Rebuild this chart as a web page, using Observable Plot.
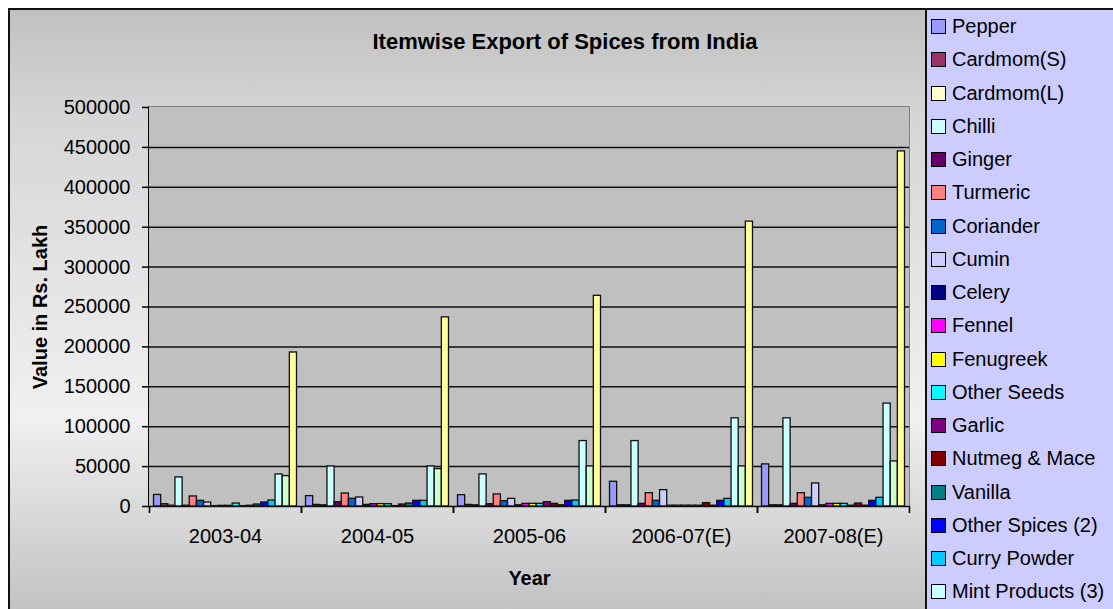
<!DOCTYPE html>
<html>
<head>
<meta charset="utf-8">
<script src="https://cdn.jsdelivr.net/npm/d3@7"></script>
<script src="https://cdn.jsdelivr.net/npm/@observablehq/plot@0.6"></script>
<style>
  html, body { margin: 0; padding: 0; width: 1113px; height: 609px; overflow: hidden; background: #fff;
    font-family: "Liberation Sans", Arial, sans-serif; }
  #chartArea { position: absolute; left: 8px; top: 8px; width: 917px; height: 601px; box-sizing: border-box;
    border-left: 2px solid #111; border-top: 2px solid #111;
    background: linear-gradient(180deg, #c0c0c0 0%, #d6d6d6 18%, #f0f0f0 68%, #c2c2c2 100%); }
  #plotBg { position: absolute; left: 148px; top: 106px; width: 760px; height: 399px;
    background: #c0c0c0; border-top: 1px solid #808080; border-right: 1px solid #808080; border-left: 1px solid #000; }
  #title { position: absolute; left: 0; width: 1130px; top: 29px; text-align: center;
    font-weight: bold; font-size: 22px; line-height: 26px; color: #000; }
  #chart { position: absolute; left: 0; top: 0; }
  #legend { position: absolute; left: 925px; top: 8px; width: 200px; height: 601px; box-sizing: border-box;
    background: #ccccff; border-left: 2px solid #111; border-top: 2px solid #111; overflow: hidden; }
  .item { height: 33.25px; display: flex; align-items: center; font-size: 20px; color: #000; white-space: nowrap; }
  .sw { width: 13px; height: 13px; border: 1px solid #000; margin-left: 4px; margin-right: 6px; flex: none; }
  [aria-label="y-axis label"], [aria-label="fx-axis label"] { font-weight: bold; }
</style>
</head>
<body>
<div id="chartArea"></div>
<div id="plotBg"></div>
<div id="title">Itemwise Export of Spices from India</div>
<div id="chart"></div>
<div id="legend"></div>
<script>
// Export value of each spice, in Rs. Lakh, per year
const years = ["2003-04", "2004-05", "2005-06", "2006-07(E)", "2007-08(E)"];

const series = [
  "Pepper", "Cardmom(S)", "Cardmom(L)", "Chilli", "Ginger", "Turmeric", "Coriander", "Cumin",
  "Celery", "Fennel", "Fenugreek", "Other Seeds", "Garlic", "Nutmeg & Mace", "Vanilla",
  "Other Spices (2)", "Curry Powder", "Mint Products (3)", "Spice Oils & Oleoresins", "Total"
];

const colors = [
  "#9999ff", "#993366", "#ffffcc", "#ccffff", "#660066", "#ff8080", "#0066cc", "#ccccff",
  "#000080", "#ff00ff", "#ffff00", "#00ffff", "#800080", "#800000", "#008080",
  "#0000ff", "#00ccff", "#ccffff", "#ccffcc", "#ffff99"
];

const pepper       = [14500, 13000, 14200, 31000, 52800];
const cardamomS    = [2900, 2000, 2000, 1500, 1500];
const cardamomL    = [1000, 1500, 1500, 1500, 1500];
const chilli       = [36400, 50200, 40200, 82000, 110500];
const ginger       = [1000, 5400, 2900, 3300, 3300];
const turmeric     = [12600, 16300, 15100, 16700, 16700];
const coriander    = [7100, 9600, 6700, 7100, 10900];
const cumin        = [5000, 11300, 9600, 20500, 28900];
const celery       = [500, 2000, 1500, 1000, 1500];
const fennel       = [800, 2900, 3300, 1000, 3300];
const fenugreek    = [800, 3000, 3300, 1000, 3300];
const otherSeeds   = [3700, 2900, 3300, 1000, 3300];
const garlic       = [500, 500, 5400, 1000, 1000];
const nutmegMace   = [1000, 2500, 3300, 4200, 3700];
const vanilla      = [2500, 3700, 1500, 1000, 1000];
const otherSpices  = [5000, 7100, 7100, 7100, 7100];
const curryPowder  = [7500, 7100, 7500, 9600, 10900];
const mintProducts = [40200, 50200, 82000, 110500, 129000];
const spiceOils    = [38100, 46900, 50200, 50200, 56500];
const total        = [193000, 237000, 264000, 357000, 445000];

const yTicks = [0, 50000, 100000, 150000, 200000, 250000, 300000, 350000, 400000, 450000, 500000];

const valueLists = [pepper, cardamomS, cardamomL, chilli, ginger, turmeric, coriander, cumin,
  celery, fennel, fenugreek, otherSeeds, garlic, nutmegMace, vanilla,
  otherSpices, curryPowder, mintProducts, spiceOils, total];

const rows = [];
years.forEach((year, i) => {
  series.forEach((name, j) => rows.push({year, series: name, value: valueLists[j][i]}));
});

const plot = Plot.plot({
  width: 925,
  height: 609,
  marginLeft: 149,
  marginRight: 16,
  marginTop: 107,
  marginBottom: 103,
  style: {background: "transparent", fontFamily: "'Liberation Sans', Arial, sans-serif", fontSize: "20px", color: "#000", overflow: "visible"},
  fx: {domain: years, padding: 0, round: false},
  x: {domain: series, paddingInner: 0, paddingOuter: 0.63, round: false, axis: null},
  y: {domain: [0, 500000]},
  color: {domain: series, range: colors},
  marks: [
    Plot.ruleY(yTicks.filter(d => d > 0 && d < 500000), {stroke: "#111", strokeWidth: 1.5}),
    Plot.barY(rows, {fx: "year", x: "series", y: "value", fill: "series", stroke: "#111", strokeWidth: 1.3}),
    Plot.ruleY([0], {stroke: "#111", strokeWidth: 1.5}),
    Plot.axisY(yTicks, {tickSize: 7, tickPadding: 12, strokeWidth: 1.5, fontSize: 20,
      tickFormat: d3.format("d"), label: "Value in Rs. Lakh", labelArrow: false, labelAnchor: "center", labelOffset: 117}),
    Plot.axisFx({anchor: "bottom", tickSize: 0, tickPadding: 22, fontSize: 20,
      label: "Year", labelArrow: false, labelAnchor: "center", labelOffset: 78}),
    Plot.axisFx({anchor: "bottom", tickSize: 7, strokeWidth: 1.5, tickFormat: () => "", label: null, dx: -76}),
    Plot.axisFx([years[years.length - 1]], {anchor: "bottom", tickSize: 7, strokeWidth: 1.5, tickFormat: () => "", label: null, dx: 76})
  ]
});
document.getElementById("chart").appendChild(plot);

// Legend: one swatch per series, as many as fit in the legend box
const legend = d3.select("#legend");
const fitCount = Math.floor(601 / 33.25);
series.slice(0, fitCount).forEach((name, j) => {
  const item = legend.append("div").attr("class", "item");
  item.append("div").attr("class", "sw").style("background", colors[j]);
  item.append("span").text(name);
});
</script>
</body>
</html>
